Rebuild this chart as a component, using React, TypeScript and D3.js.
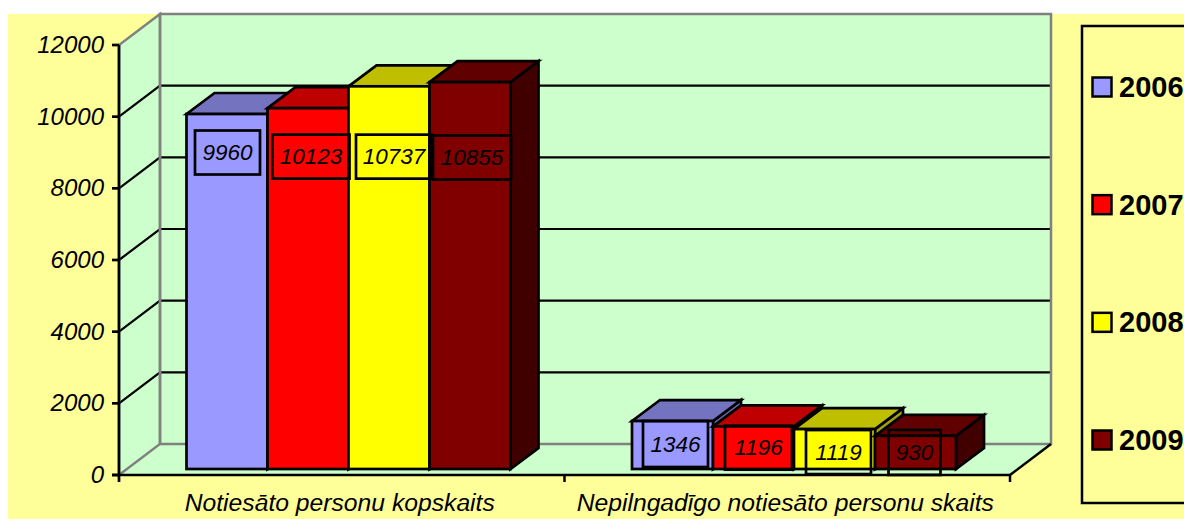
import React from 'react';
import * as d3 from 'd3';

const categories = ['Notiesāto personu kopskaits', 'Nepilngadīgo notiesāto personu skaits'];
const years = ['2006', '2007', '2008', '2009'];
const values2006 = [9960, 1346];
const values2007 = [10123, 1196];
const values2008 = [10737, 1119];
const values2009 = [10855, 930];
const seriesValues = [values2006, values2007, values2008, values2009];
const yTicks = [0, 2000, 4000, 6000, 8000, 10000, 12000];

const frontColors = ['#9999ff', '#ff0000', '#ffff00', '#800000'];
const topColors = ['#7373bf', '#bf0000', '#bfbf00', '#600000'];
const sideColors = ['#6b6bb3', '#990000', '#a0a000', '#400000'];

// label box placement, by hand: [group][series] offset from the bar centre
const labelDx = [[0.5, 3, 5, 2], [3, 5, 4, -1]];
const labelDy = [[-139, -132, -121, -118], [-1, 0, 3, 0]];
const labelW = [[65, 77, 76, 78], [65, 67, 65, 52]];
const labelH = [[44, 44, 44, 44], [46, 44, 44, 45]];
// category labels sit slightly off the band centre
const categoryDx = [-2, -2];

const W = 1184;
const H = 519;
const wallDx = 41;
const wallDy = -31;
const barDx = 28;
const barDy = -21;

const y = d3.scaleLinear().domain([0, 12000]).range([475, 45]);
const x = d3.scaleBand<string>().domain(categories).range([119, 1010]);
const barPlaneY = d3.scaleLinear().domain([0, 12000]).range([469, 469 - 427.7]);
const barX = d3.scaleBand<string>().domain(years).range([0, 324]);
const groupOffset = 67.5;
const legendY = d3.scalePoint<string>().domain(years).range([87, 440]);

const pts = (p: number[][]) => p.map((d) => d.join(',')).join(' ');

export default function App(): JSX.Element {
	const x0 = x.range()[0];
	const x1 = x.range()[1];
	const y0 = y(0);
	const yMax = y(12000);
	return (
		<svg
			width={W}
			height={H}
			viewBox={`0 0 ${W} ${H}`}
			style={{ position: 'fixed', left: 0, top: 0, background: '#fff' }}
			fontFamily="'Liberation Sans', Arial, sans-serif"
		>
			<rect x={8} y={14} width={W - 8} height={H - 14} fill="#ffff99" />
			{/* walls and floor */}
			<polygon
				points={pts([[x0, yMax], [x0 + wallDx, yMax + wallDy], [x1 + wallDx, yMax + wallDy], [x1 + wallDx, y0 + wallDy], [x1, y0], [x0, y0]])}
				fill="#ccffcc"
			/>
			{yTicks.slice(1, -1).map((t) => (
				<polyline
					key={t}
					points={pts([[x0, y(t)], [x0 + wallDx, y(t) + wallDy], [x1 + wallDx, y(t) + wallDy]])}
					stroke="#000"
					strokeWidth={2.2}
					fill="none"
				/>
			))}
			<polygon
				points={pts([[x0, y0], [x0 + wallDx, y0 + wallDy], [x0 + wallDx, yMax + wallDy], [x0, yMax]])}
				fill="none"
				stroke="#808080"
				strokeWidth={2.5}
			/>
			<polygon
				points={pts([[x0 + wallDx, y0 + wallDy], [x1 + wallDx, y0 + wallDy], [x1 + wallDx, yMax + wallDy], [x0 + wallDx, yMax + wallDy]])}
				fill="none"
				stroke="#808080"
				strokeWidth={2.5}
			/>
			<line x1={x1} y1={y0} x2={x1 + wallDx} y2={y0 + wallDy} stroke="#000" strokeWidth={2.5} />
			{/* bars, later series over earlier ones */}
			{categories.map((c, gi) =>
				years.map((yr, si) => {
					const v = seriesValues[si][gi];
					const left = (x(c) as number) + groupOffset + (barX(yr) as number);
					const right = left + barX.bandwidth();
					const top = barPlaneY(v);
					const base = barPlaneY(0);
					return (
						<g key={c + yr} stroke="#000" strokeWidth={2.7} strokeLinejoin="miter">
							<polygon
								points={pts([[right, top], [right + barDx, top + barDy], [right + barDx, base + barDy], [right, base]])}
								fill={sideColors[si]}
							/>
							<polygon
								points={pts([[left, top], [left + barDx, top + barDy], [right + barDx, top + barDy], [right, top]])}
								fill={topColors[si]}
							/>
							<rect x={left} y={top} width={right - left} height={base - top} fill={frontColors[si]} />
						</g>
					);
				})
			)}
			{/* value labels */}
			{categories.map((c, gi) =>
				years.map((yr, si) => {
					const v = seriesValues[si][gi];
					const left = (x(c) as number) + groupOffset + (barX(yr) as number);
					const cx = left + barX.bandwidth() / 2 + labelDx[gi][si];
					const cy = (barPlaneY(v) + barPlaneY(0)) / 2 + labelDy[gi][si];
					const w = labelW[gi][si];
					const h = labelH[gi][si];
					return (
						<g key={c + yr}>
							<rect x={cx - w / 2} y={cy - h / 2} width={w} height={h} fill="none" stroke="#000" strokeWidth={2.7} />
							<text x={cx} y={cy + 7.5} textAnchor="middle" fontSize={22.5} fontStyle="italic" fill="#000">
								{v}
							</text>
						</g>
					);
				})
			)}
			{/* value axis */}
			<line x1={x0} y1={yMax} x2={x0} y2={y0 + 7} stroke="#000" strokeWidth={2.7} />
			{yTicks.map((t) => (
				<g key={t}>
					<line x1={x0 - 7} x2={x0} y1={y(t)} y2={y(t)} stroke="#000" strokeWidth={2.7} />
					<text x={104} y={y(t) + 8} textAnchor="end" fontSize={24} fontStyle="italic" fill="#000">
						{t}
					</text>
				</g>
			))}
			{/* category axis */}
			<line x1={x0 - 7} x2={x1} y1={y0} y2={y0} stroke="#000" strokeWidth={2.7} />
			{[x1, ...categories.slice(1).map((c) => x(c) as number)].map((t) => (
				<line key={t} x1={t} x2={t} y1={y0} y2={y0 + 7} stroke="#000" strokeWidth={2.5} />
			))}
			{categories.map((c, i) => (
				<text
					key={c}
					x={(x(c) as number) + x.bandwidth() / 2 + categoryDx[i]}
					y={511}
					textAnchor="middle"
					fontSize={24.7}
					fontStyle="italic"
					fill="#000"
				>
					{c}
				</text>
			))}
			{/* legend */}
			<rect x={1082} y={26} width={W} height={477} fill="none" stroke="#000" strokeWidth={2.5} />
			{years.map((yr, si) => (
				<g key={yr}>
					<rect x={1092.5} y={(legendY(yr) as number) - 9.5} width={19} height={19} fill={frontColors[si]} stroke="#000" strokeWidth={2.5} />
					<text x={1119} y={(legendY(yr) as number) + 10} fontSize={29} fontWeight="bold" fill="#000">
						{yr}
					</text>
				</g>
			))}
		</svg>
	);
}
